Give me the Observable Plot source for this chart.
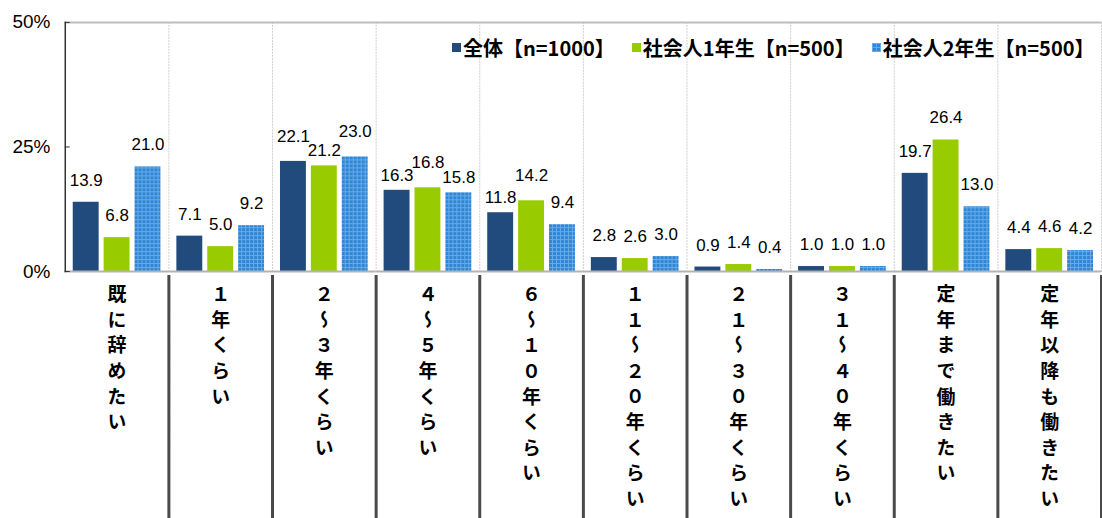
<!DOCTYPE html>
<html>
<head>
<meta charset="utf-8">
<script src="https://cdn.jsdelivr.net/npm/d3@7"></script>
<script src="https://cdn.jsdelivr.net/npm/@observablehq/plot@0.6"></script>
<style>
  html, body { margin: 0; padding: 0; background: #fff; overflow: hidden; }
  #wrap { position: relative; width: 1102px; height: 518px; overflow: hidden; }
  #legend { position: absolute; left: 452px; top: 33px; display: flex; align-items: center;
    font-family: "Noto Sans CJK JP", sans-serif; font-weight: 700; font-size: 20px; color: #000;
    white-space: nowrap; }
  .item { display: flex; align-items: center; margin-right: 17px; }
  .sw { width: 9px; height: 9px; margin-right: 2px; }
</style>
</head>
<body>
<svg width="0" height="0" style="position:absolute">
  <defs>
    <pattern id="grid3" width="4" height="4" patternUnits="userSpaceOnUse">
      <rect width="4" height="4" fill="#2f86d6"></rect>
      <path d="M0 0.5H4M0.5 0V4" stroke="#67abe8" stroke-width="1"></path>
    </pattern>
  </defs>
</svg>
<div id="wrap"><div id="legend"></div></div>
<script>
const categories = ["既に辞めたい", "１年くらい", "２～３年くらい", "４～５年くらい", "６～１０年くらい",
  "１１～２０年くらい", "２１～３０年くらい", "３１～４０年くらい", "定年まで働きたい", "定年以降も働きたい"];
const series = ["全体【n=1000】", "社会人1年生【n=500】", "社会人2年生【n=500】"];
const overall = [13.9, 7.1, 22.1, 16.3, 11.8, 2.8, 0.9, 1.0, 19.7, 4.4];
const year1   = [6.8, 5.0, 21.2, 16.8, 14.2, 2.6, 1.4, 1.0, 26.4, 4.6];
const year2   = [21.0, 9.2, 23.0, 15.8, 9.4, 3.0, 0.4, 1.0, 13.0, 4.2];
const yTicks = [0, 25, 50];
const colors = ["#214a7d", "#99cc00", "url(#grid3)"];

const valuesBySeries = [overall, year1, year2];
const data = categories.flatMap((c, i) => series.map((s, j) => ({category: c, series: s, si: j, ci: i, value: valuesBySeries[j][i]})));
const fmt = d => d.value.toFixed(1);

// simple label collision rule: wide neighbouring labels at similar heights
// -> the lower one is placed lower, the higher one higher
function labelPlace(d) {
  let low = false, high = false;
  for (const nj of [d.si - 1, d.si + 1]) {
    if (nj < 0 || nj >= series.length) continue;
    const n = data.find(e => e.ci === d.ci && e.si === nj);
    if (fmt(d).length >= 4 && fmt(n).length >= 4 && Math.abs(d.value - n.value) < 2.6) {
      if (d.value < n.value) low = true; else high = true;
    }
  }
  return low ? "low" : high ? "high" : "mid";
}
const labelOpts = {fx: "category", x: "series", y: "value", text: fmt, fontSize: 17};

const chart = Plot.plot({
  width: 1106, height: 518,
  marginLeft: 63, marginRight: 0, marginTop: 22, marginBottom: 246,
  style: {fontFamily: "'Liberation Sans', Arial, sans-serif", fontSize: "17px", color: "#000", background: "transparent", overflow: "visible"},
  fx: {domain: categories, padding: 0, label: null},
  x: {domain: series, paddingInner: 0.16, paddingOuter: 0.22, axis: null},
  y: {domain: [0, 50], axis: null},
  color: {domain: series, range: colors},
  marks: [
    Plot.frame({anchor: "right", stroke: "#cfcfcf", strokeDasharray: "1,2"}),
    Plot.frame({anchor: "right", stroke: "#4a4a4a", strokeWidth: 3, strokeDasharray: "2,1", insetTop: 255, insetBottom: -246}),
    Plot.barY(data, {fx: "category", x: "series", y: "value", fill: "series"}),
    Plot.ruleY([50], {stroke: "#bdbdbd", strokeWidth: 2}),
    Plot.ruleY([0], {stroke: "#b3b3b3", strokeWidth: 2}),
    Plot.frame({anchor: "left", facetAnchor: "left", stroke: "#333", strokeWidth: 1.5}),
    Plot.axisY({ticks: yTicks, tickFormat: d => d + "%", tickSize: -5, tickPadding: 20, fontSize: 19, stroke: "#333", label: null}),
    Plot.axisFx({anchor: "bottom", tickSize: 0, tickPadding: 13, fontSize: 19, fontWeight: "bold", label: null}),
    Plot.text(data.filter(d => labelPlace(d) === "mid"), {...labelOpts, dy: -22}),
    Plot.text(data.filter(d => labelPlace(d) === "low"), {...labelOpts, dy: -15}),
    Plot.text(data.filter(d => labelPlace(d) === "high"), {...labelOpts, dy: -25})
  ]
});

// vertical (tategaki) category labels
chart.querySelectorAll('g[aria-label="fx-axis tick label"] text').forEach(t => {
  t.setAttribute("text-anchor", "start");
  t.removeAttribute("y");
  t.removeAttribute("dy");
  t.style.writingMode = "vertical-rl";
  t.style.textOrientation = "upright";
  t.style.letterSpacing = "6.7px";
  t.style.fontFamily = "'Noto Sans CJK JP', sans-serif";
});

document.getElementById("wrap").prepend(chart);

const legend = document.getElementById("legend");
series.forEach((s, j) => {
  const item = document.createElement("div");
  item.className = "item";
  item.innerHTML = `<svg class="sw" width="9" height="9"><rect width="9" height="9" fill="${colors[j]}"></rect></svg><span>${s}</span>`;
  legend.appendChild(item);
});
</script>
</body>
</html>
